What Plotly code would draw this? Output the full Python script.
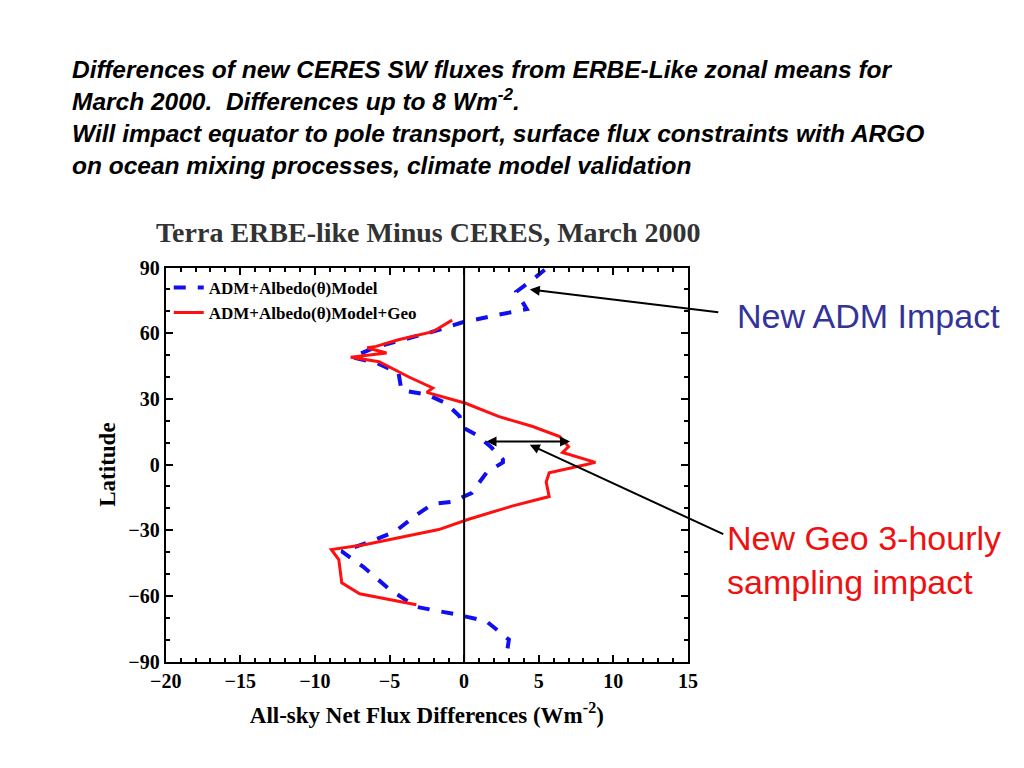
import plotly.graph_objects as go

# ADM+Albedo(theta)Model (blue dashed)
blue_x = [5.4, 4.6, 3.5, 3.9, 4.2, 2.3, -0.1, -2.2, -4.5, -6.0, -7.5, -5.9, -4.4, -4.2, -2.5, -1.2,
          -0.3, -0.1, 0.8, 1.8, 2.6, 2.6, 1.5, 0.5, -0.8, -2.1, -3.2, -4.6, -6.2, -8.2, -6.8,
          -5.0, -3.2, -0.5, 1.5, 3.0, 2.8]
blue_lat = [89, 84.5, 79, 74.5, 71, 68.5, 65, 60.5, 56.5, 53.5, 49, 46.5, 42, 34, 32, 28,
            22, 17, 13.7, 8, 2.3, 1, -3.7, -13, -17, -18, -23, -30.5, -35, -39.7, -46.5,
            -57, -65, -68.5, -71.6, -80, -89]

# ADM+Albedo(theta)Model+Geo (red solid)
red_x = [-0.8, -2.1, -4.4, -5.9, -6.5, -5.2, -7.6, -5.7, -3.7, -2.1, -2.5, -0.8, 0.1, 2.3, 4.6,
         6.4, 7.0, 6.6, 8.2, 8.8, 8.2, 5.7, 5.5, 5.7, 3.2, 0.3, -1.7, -6.6, -8.9, -8.4, -8.2,
         -7.0, -3.2]
red_lat = [66, 60.7, 57, 54, 53.4, 51, 49, 47, 40, 35, 33, 29.7, 28, 22, 17.4,
           12.8, 8.2, 5.5, 2.3, 1, 0, -3.7, -8, -14.6, -19, -25, -29.7, -36.5, -38.8, -43.4, -54,
           -59, -64]

serif = "Times New Roman, Liberation Serif, serif"
sans = "Arial, Liberation Sans, sans-serif"

fig = go.Figure()
fig.add_trace(go.Scatter(x=blue_x, y=blue_lat, mode="lines", name="<b>ADM+Albedo(θ)Model</b>",
                         line=dict(color="#1010ee", width=4, dash="dash")))
fig.add_trace(go.Scatter(x=red_x, y=red_lat, mode="lines", name="<b>ADM+Albedo(θ)Model+Geo</b>",
                         line=dict(color="#ff1010", width=3)))
fig.add_trace(go.Scatter(x=[0, 0], y=[-90, 90], mode="lines", showlegend=False,
                         line=dict(color="black", width=2)))

axis_common = dict(showline=True, linecolor="black", linewidth=2, mirror="ticks",
                   ticks="inside", ticklen=7, tickwidth=2, tickcolor="black",
                   showgrid=False, zeroline=False,
                   tickfont=dict(family=serif, size=20, color="black"),
                   minor=dict(ticks="inside", ticklen=4, tickwidth=1.5, tickcolor="black"))

fig.update_layout(
    width=1024, height=768,
    paper_bgcolor="white", plot_bgcolor="white",
    margin=dict(l=0, r=0, t=0, b=0, autoexpand=False),
    xaxis=dict(range=[-20, 15], dtick=5, domain=[0.154, 0.664], **axis_common,
               title=dict(text="<b>All-sky Net Flux Differences (Wm<sup>-2</sup>)</b>",
                          font=dict(family=serif, size=23, color="black"), standoff=16)),
    yaxis=dict(range=[-90, 90], dtick=30, domain=[0.149, 0.662], **axis_common,
               title=dict(text="<b>Latitude</b>", font=dict(family=serif, size=23, color="black"),
                          standoff=6)),
    legend=dict(x=0.157, y=0.659, xanchor="left", yanchor="top", bgcolor="rgba(0,0,0,0)",
                font=dict(family=serif, size=17, color="black"), tracegroupgap=0),
    font=dict(family=serif),
)
fig.update_xaxes(tickprefix="<b>", ticksuffix="</b>")
fig.update_yaxes(tickprefix="<b>", ticksuffix="</b>")

header = ("<b><i>Differences of new CERES SW fluxes from ERBE-Like zonal means for<br>"
          "March 2000.  Differences up to 8 Wm<sup>-2</sup>.<br>"
          "Will impact equator to pole transport, surface flux constraints with ARGO<br>"
          "on ocean mixing processes, climate model validation</i></b>")
fig.add_annotation(text=header, x=62 / 1024, y=1 - 46 / 768, xref="paper", yref="paper",
                   xanchor="left", yanchor="top", showarrow=False, align="left",
                   font=dict(family=sans, size=24.5, color="black"))
fig.add_annotation(text="<b>Terra ERBE-like Minus CERES, March 2000</b>", x=420 / 1024,
                   y=1 - 207 / 768, xref="paper", yref="paper", showarrow=False,
                   font=dict(family=serif, size=28, color="#333333"))
fig.add_annotation(text="New ADM Impact", x=727 / 1024, y=1 - 308 / 768, xref="paper", yref="paper",
                   xanchor="left", showarrow=False,
                   font=dict(family=sans, size=34, color="#333399"))
fig.add_annotation(text="New Geo 3-hourly<br>sampling impact", x=717 / 1024, y=1 - 552 / 768,
                   xref="paper", yref="paper", xanchor="left", yanchor="middle",
                   showarrow=False, align="left",
                   font=dict(family=sans, size=34, color="#ee1111"))

# arrows (tail offsets in pixels from the head)
fig.add_annotation(x=4.4, y=80, xref="x", yref="y", ax=190, ay=23,
                   text="", showarrow=True, arrowhead=2, arrowwidth=2, arrowcolor="black")
fig.add_annotation(x=4.4, y=9, xref="x", yref="y", ax=195, ay=90,
                   text="", showarrow=True, arrowhead=2, arrowwidth=2, arrowcolor="black")
fig.add_annotation(x=1.5, y=10.5, ax=7.2, ay=10.5, xref="x", yref="y", axref="x", ayref="y",
                   text="", showarrow=True, arrowhead=2, startarrowhead=2, arrowside="end+start",
                   arrowwidth=2, arrowcolor="black")

fig.write_html("out.html")
